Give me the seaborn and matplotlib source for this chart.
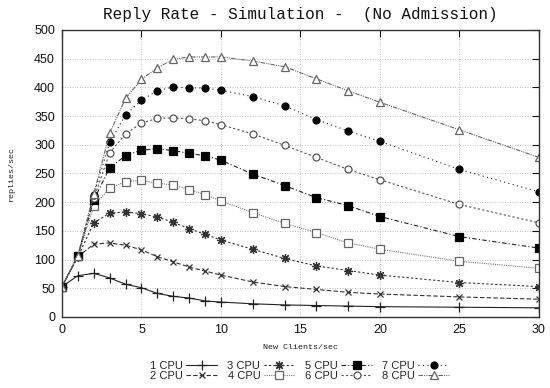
import matplotlib
matplotlib.use("Agg")
import matplotlib.pyplot as plt
import seaborn as sns
import pandas as pd

clients = [0, 1, 2, 3, 4, 5, 6, 7, 8, 9, 10, 12, 14, 16, 18, 20, 25, 30]

cpu1 = [53, 72, 76, 68, 57, 51, 41, 36, 33, 28, 26, 23, 21, 20, 19, 18, 17, 16]
cpu2 = [53, 105, 127, 129, 125, 117, 105, 96, 87, 80, 73, 61, 53, 48, 43, 40, 35, 31]
cpu3 = [53, 105, 164, 181, 183, 180, 174, 165, 154, 144, 134, 118, 102, 89, 81, 73, 60, 53]
cpu4 = [53, 106, 194, 224, 236, 238, 233, 230, 222, 213, 202, 182, 163, 147, 129, 118, 97, 85]
cpu5 = [53, 107, 204, 260, 281, 291, 293, 290, 285, 281, 273, 249, 229, 208, 194, 175, 140, 120]
cpu6 = [53, 106, 207, 286, 319, 338, 346, 347, 345, 342, 335, 319, 299, 278, 257, 239, 196, 164]
cpu7 = [53, 107, 213, 304, 352, 378, 394, 401, 399, 399, 395, 384, 368, 344, 324, 306, 257, 218]
cpu8 = [53, 107, 215, 320, 381, 414, 434, 449, 453, 453, 453, 446, 436, 415, 394, 374, 326, 278]

labels = ["1 CPU", "2 CPU", "3 CPU", "4 CPU", "5 CPU", "6 CPU", "7 CPU", "8 CPU"]
series = [cpu1, cpu2, cpu3, cpu4, cpu5, cpu6, cpu7, cpu8]

x_ticks = [0, 5, 10, 15, 20, 25, 30]
y_ticks = [0, 50, 100, 150, 200, 250, 300, 350, 400, 450, 500]

styles = [
    dict(color="#222222", marker="+", ms=6.5, mfc="none", mec="#222222", ls="-"),
    dict(color="#333333", marker="x", ms=5, mfc="none", mec="#333333", ls=(0, (4, 2))),
    dict(color="#333333", marker=(8, 2, 0), ms=6.5, mfc="#333333", mec="#333333", ls=(0, (2, 2))),
    dict(color="#777777", marker="s", ms=5.2, mfc="white", mec="#666666", ls=(0, (1, 1))),
    dict(color="#222222", marker="s", ms=5.2, mfc="black", mec="black", ls=(0, (4, 2, 1, 2))),
    dict(color="#555555", marker="o", ms=5, mfc="white", mec="#555555", ls=(0, (2, 2))),
    dict(color="#222222", marker="o", ms=5, mfc="black", mec="black", ls=(0, (1, 3))),
    dict(color="#666666", marker="^", ms=5.2, mfc="white", mec="#666666", ls=(0, (4, 1, 1, 1, 1, 1))),
]

sns.set_theme(style="white")
plt.rcParams["font.family"] = ["Liberation Sans", "DejaVu Sans"]

fig = plt.figure(figsize=(5.5, 3.88), dpi=100)
ax = fig.add_axes([0.1127, 0.183, 0.8673, 0.7397])

for lab, vals, st in zip(labels, series, styles):
    df = pd.DataFrame({"x": clients, "y": vals})
    sns.lineplot(data=df, x="x", y="y", ax=ax, color=st["color"],
                 marker=st["marker"], markersize=st["ms"],
                 markerfacecolor=st["mfc"], markeredgecolor=st["mec"],
                 markeredgewidth=0.9, linestyle=st["ls"], linewidth=0.8,
                 label=lab, legend=False)

ax.set_xlim(0, 30)
ax.set_ylim(0, 500)
ax.set_xticks(x_ticks)
ax.set_yticks(y_ticks)
ax.grid(True, color="#aaaaaa", linestyle=(0, (1, 2)), linewidth=0.6)
ax.tick_params(direction="in", top=True, right=True, length=5, width=0.8,
               labelsize=9, colors="#111111", pad=5)
for s in ax.spines.values():
    s.set_color("#333333")
    s.set_linewidth(1.0)

mono = ["Liberation Mono", "DejaVu Sans Mono"]
ax.set_title("Reply Rate - Simulation -  (No Admission)", family=mono,
             fontsize=11.5, pad=8, color="#111111")
ax.set_xlabel("New Clients/sec", family=mono, fontsize=6, labelpad=6, color="#222222")
ax.set_ylabel("replies/sec", family=mono, fontsize=6, labelpad=14, color="#222222")

handles = ax.get_lines()[:len(labels)]
fig.legend(handles, labels, loc="center", bbox_to_anchor=(0.545, 0.045),
           ncol=4, frameon=False, fontsize=8, markerfirst=False,
           handlelength=2.8, handletextpad=0.3, columnspacing=0.9,
           labelspacing=0.0, borderpad=0, numpoints=1)

fig.savefig("out.png", dpi=100)
